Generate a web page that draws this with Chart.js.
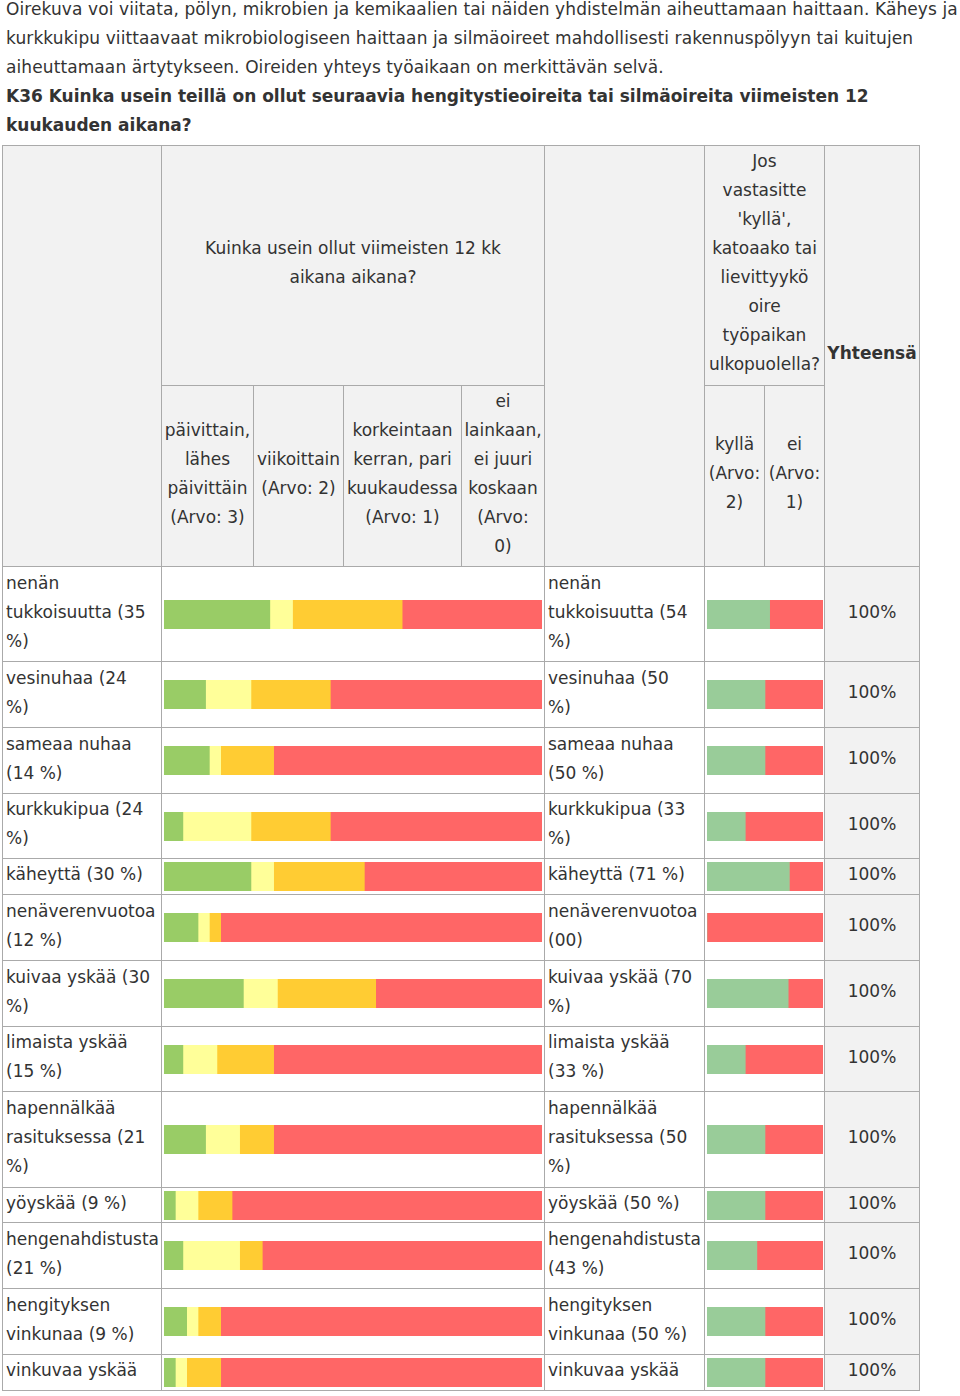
<!DOCTYPE html>
<html lang="fi">
<head>
<meta charset="utf-8">
<script src="https://cdn.jsdelivr.net/npm/chart.js@4.4.1/dist/chart.umd.min.js"></script>
<style>
  html, body { margin: 0; padding: 0; background: #fff; }
  body { width: 960px; height: 1396px; position: relative; overflow: hidden;
         font-family: "DejaVu Sans", Verdana, sans-serif; font-size: 17px; line-height: 29px; color: #333; }
  #intro { position: absolute; left: 6px; top: -5px; white-space: nowrap; letter-spacing: 0.1px; }
  #intro b { font-weight: bold; letter-spacing: 0; }
  #grid { position: absolute; left: 2px; top: 145px; display: grid;
          grid-template-columns: 159px 92px 90px 118px 83px 160px 60px 60px 95px;
          grid-template-rows: 240px 181px 95px 66px 66px 65px 36px 66px 66px 65px 96px 35px 66px 66px 36px;
          border-left: 1px solid #aaa; border-top: 1px solid #aaa; }
  .c { box-sizing: border-box; border-right: 1px solid #aaa; border-bottom: 1px solid #aaa;
       display: flex; align-items: center; white-space: nowrap; overflow: hidden; }
  .h { background: #f2f2f2; justify-content: center; text-align: center; padding-bottom: 5px; }
  .lab { background: #fff; justify-content: flex-start; padding-left: 3px; padding-bottom: 4px; }
  .bar { background: #fff; justify-content: center; }
  .tot { background: #f2f2f2; justify-content: center; padding-bottom: 4px; }
  canvas { display: block; }
</style>
</head>
<body>
<div id="intro">Oirekuva voi viitata, pölyn, mikrobien ja kemikaalien tai näiden yhdistelmän aiheuttamaan haittaan. Käheys ja<br>kurkkukipu viittaavaat mikrobiologiseen haittaan ja silmäoireet mahdollisesti rakennuspölyyn tai kuitujen<br>aiheuttamaan ärtytykseen. Oireiden yhteys työaikaan on merkittävän selvä.<br><b>K36 Kuinka usein teillä on ollut seuraavia hengitystieoireita tai silmäoireita viimeisten 12<br>kuukauden aikana?</b></div>
<div id="grid"></div>
<script>
// ---- data ----
const leftLabels = [
  "nenän\ntukkoisuutta (35\n%)", "vesinuhaa (24\n%)", "sameaa nuhaa\n(14 %)", "kurkkukipua (24\n%)",
  "käheyttä (30 %)", "nenäverenvuotoa\n(12 %)", "kuivaa yskää (30\n%)", "limaista yskää\n(15 %)",
  "hapennälkää\nrasituksessa (21\n%)", "yöyskää (9 %)", "hengenahdistusta\n(21 %)", "hengityksen\nvinkunaa (9 %)",
  "vinkuvaa yskää"
];
const rightLabels = [
  "nenän\ntukkoisuutta (54\n%)", "vesinuhaa (50\n%)", "sameaa nuhaa\n(50 %)", "kurkkukipua (33\n%)",
  "käheyttä (71 %)", "nenäverenvuotoa\n(00)", "kuivaa yskää (70\n%)", "limaista yskää\n(33 %)",
  "hapennälkää\nrasituksessa (50\n%)", "yöyskää (50 %)", "hengenahdistusta\n(43 %)", "hengityksen\nvinkunaa (50 %)",
  "vinkuvaa yskää"
];
const daily   = [28, 11, 12,  5, 23,  9, 21,  5, 11,  3,  5,  6,  3];
const weekly  = [ 6, 12,  3, 18,  6,  3,  9,  9,  9,  6, 15,  3,  3];
const monthly = [29, 21, 14, 21, 24,  3, 26, 15,  9,  9,  6,  6,  9];
const never   = [37, 56, 71, 56, 47, 85, 44, 71, 71, 82, 74, 85, 85];
const yes     = [54, 50, 50, 33, 71,  0, 70, 33, 50, 50, 43, 50, 50];
const no      = [46, 50, 50, 67, 29,100, 30, 67, 50, 50, 57, 50, 50];
const totals  = ["100%","100%","100%","100%","100%","100%","100%","100%","100%","100%","100%","100%","100%"];

const freqHeader = "Kuinka usein ollut viimeisten 12 kk\naikana aikana?";
const outsideHeader = "Jos\nvastasitte\n'kyllä',\nkatoaako tai\nlievittyykö\noire\ntyöpaikan\nulkopuolella?";
const totalHeader = "Yhteensä";
const freqCats = ["päivittain,\nlähes\npäivittäin\n(Arvo: 3)", "viikoittain\n(Arvo: 2)", "korkeintaan\nkerran, pari\nkuukaudessa\n(Arvo: 1)", "ei\nlainkaan,\nei juuri\nkoskaan\n(Arvo:\n0)"];
const outsideCats = ["kyllä\n(Arvo:\n2)", "ei\n(Arvo:\n1)"];

const freqColors = ["#99cc66", "#ffff99", "#ffcc33", "#ff6666"];
const outsideColors = ["#99cc99", "#ff6666"];

// ---- layout ----
const grid = document.getElementById('grid');
function cell(cls, col, row, text, bold) {
  const d = document.createElement('div');
  d.className = 'c ' + cls;
  d.style.gridColumn = col;
  d.style.gridRow = row;
  if (text !== undefined) {
    const s = document.createElement('span');
    if (bold) s.style.fontWeight = 'bold';
    s.innerHTML = text.split('\n').map(t => t.replace(/&/g,'&amp;').replace(/</g,'&lt;')).join('<br>');
    d.appendChild(s);
  }
  grid.appendChild(d);
  return d;
}
cell('h', '1', '1 / 3');
cell('h', '2 / 6', '1', freqHeader);
cell('h', '6', '1 / 3');
cell('h', '7 / 9', '1', outsideHeader);
cell('h', '9', '1 / 3', totalHeader, true);
freqCats.forEach((t, i) => cell('h', String(2 + i), '2', t));
outsideCats.forEach((t, i) => cell('h', String(7 + i), '2', t));

function makeBar(parent, w, values, colors, label) {
  const cv = document.createElement('canvas');
  cv.width = w; cv.height = 29;
  cv.style.width = w + 'px'; cv.style.height = '29px';
  parent.appendChild(cv);
  new Chart(cv, {
    type: 'bar',
    data: {
      labels: [label],
      datasets: values.map((v, k) => ({ data: [v], backgroundColor: colors[k], borderWidth: 0,
                                         barPercentage: 1, categoryPercentage: 1 }))
    },
    options: {
      indexAxis: 'y', responsive: false, animation: false, events: [],
      layout: { padding: 0 },
      plugins: { legend: { display: false }, tooltip: { enabled: false } },
      scales: {
        x: { stacked: true, display: false, min: 0, max: 100 },
        y: { stacked: true, display: false }
      }
    }
  });
}

leftLabels.forEach((lab, i) => {
  const r = String(3 + i);
  cell('lab', '1', r, lab);
  const b1 = cell('bar', '2 / 6', r);
  makeBar(b1, 378, [daily[i], weekly[i], monthly[i], never[i]], freqColors, lab);
  cell('lab', '6', r, rightLabels[i]);
  const b2 = cell('bar', '7 / 9', r);
  makeBar(b2, 116, [yes[i], no[i]], outsideColors, rightLabels[i]);
  cell('tot', '9', r, totals[i]);
});
</script>
</body>
</html>
